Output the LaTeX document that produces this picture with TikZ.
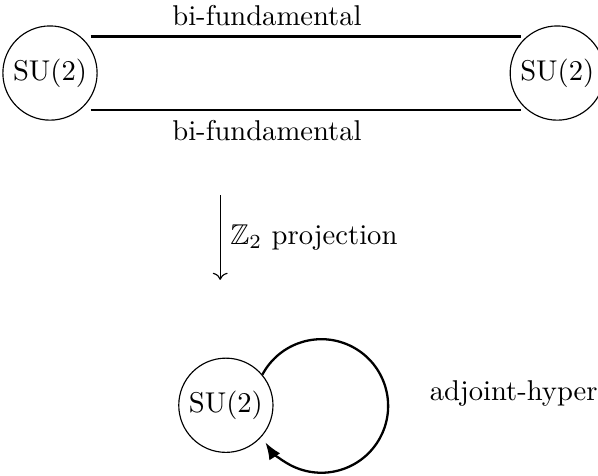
\documentclass[tikz,border=0pt]{standalone}
\usepackage{amsmath,amssymb}
\usepackage{tikz}
\usetikzlibrary{positioning,arrows.meta}

\begin{document}
\begin{tikzpicture}[
		group/.style={circle, draw, inner sep=2pt},
		bifund/.style={thick},
		proj/.style={->},
		selfloop/.style={-{Latex[length=6pt]}, thick}]
		\useasboundingbox (-0.614,0.897) rectangle (6.73,-4.94);
		\node[group] (l) at (0,0) {SU(2)};
		\node[group] (r) at (6.23,0) {SU(2)};
		\draw[bifund] ([shift={(0.5,0.45)}]l.center) -- node[pos=0.41, above] (ftop) {bi-fundamental} ([shift={(-0.45,0.45)}]r.center);
		\draw[bifund] ([shift={(0.5,-0.45)}]l.center) -- node[pos=0.41, below] (fbot) {bi-fundamental} ([shift={(-0.45,-0.45)}]r.center);
		% Z_2 projection
		\coordinate (zt) at (2.09,-1.50);
		\coordinate (zb) at (2.09,-2.54);
		\draw[proj] (zt) -- node[right] (zlab) {$\mathbb{Z}_2$ projection} (zb);
		\node[group] (m) at (2.16,-4.08) {SU(2)};
		\draw[selfloop] (m.40) arc[start angle=152, end angle=-147, radius=0.82cm];
		\node[anchor=west] (adj) at (4.54,-3.93) {adjoint-hyper};
\end{tikzpicture}
\end{document}
